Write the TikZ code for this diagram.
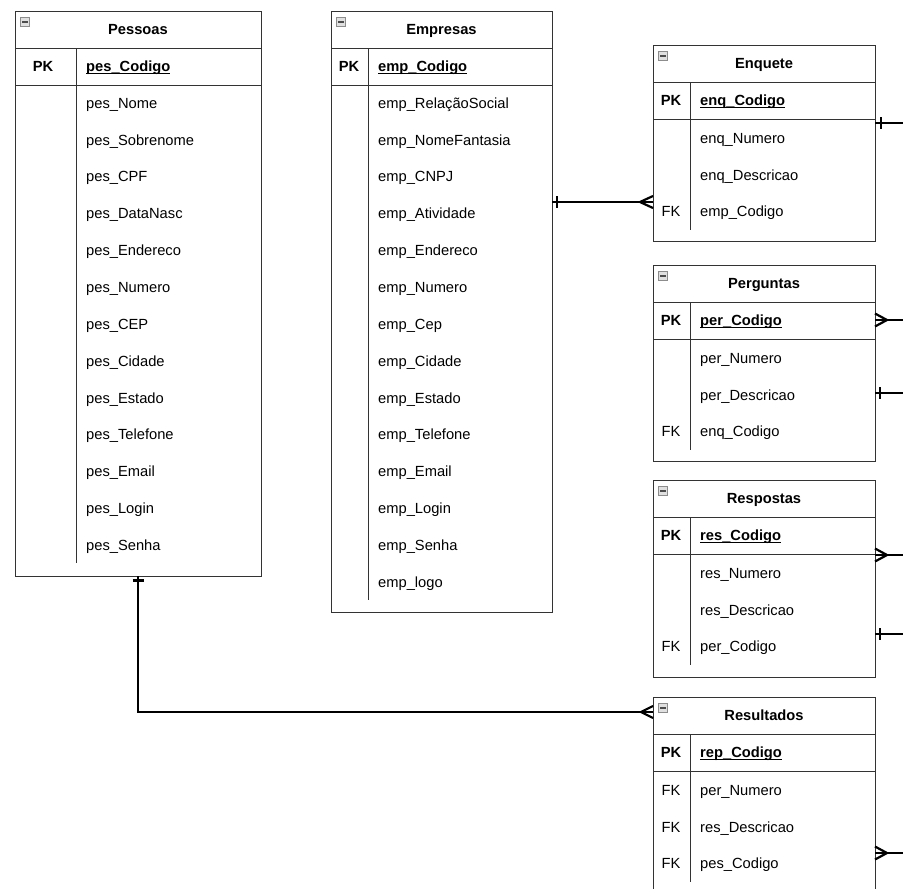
\documentclass[tikz,border=0pt]{standalone}
\usepackage{fontspec}
\setmainfont{Liberation Sans}

\newcommand{\erfont}{\fontsize{14.7}{17}\selectfont}
\newcommand{\pkname}[1]{\setbox0\hbox{#1}\rlap{\rule[-2pt]{\wd0}{1pt}}\box0}

\tikzset{
  tablebox/.style={draw=black!80, line width=1pt, anchor=north west, inner sep=0pt, outer sep=0pt},
  rowline/.style={draw=black!80, line width=1pt},
  collapse/.style={draw=black!45, fill=black!12, line width=0.8pt, minimum width=9.5pt, minimum height=9pt, inner sep=0pt,
    path picture={\draw[black!70, line width=2pt] ([xshift=2pt]path picture bounding box.west) -- ([xshift=-2pt]path picture bounding box.east);}},
  title/.style={font=\erfont\bfseries, text height=10.5pt, text depth=0pt, inner sep=0pt},
  pkkey/.style={font=\erfont\bfseries, text height=10.5pt, text depth=0pt, inner sep=0pt},
  fkkey/.style={font=\erfont, text height=10.5pt, text depth=0pt, inner sep=0pt},
  pkfield/.style={font=\erfont\bfseries, anchor=west, text height=10.5pt, text depth=0pt, inner sep=0pt},
  fieldtext/.style={font=\erfont, anchor=west, text height=10.5pt, text depth=0pt, inner sep=0pt},
  conn/.style={line width=2.2pt, black},
}

\begin{document}
\begin{tikzpicture}[x=1pt, y=-1pt]

\clip (0,0) rectangle (903,889);

% Pessoas
\node[tablebox, minimum width=246pt, minimum height=565pt] (pessoas) at (15,11) {};
\draw[rowline] (15,48) -- (261,48) (15,85) -- (261,85) (76,48) -- (76,563);
\node[collapse] (pescol) at (25,21.5) {};
\node[title] (pestitle) at (138,29.5) {Pessoas};
\node[pkkey] (peskey) at (43,66.5) {PK};
\node[pkfield] (pespk) at (86,66.5) {\pkname{pes\_Codigo}};
\foreach \f [count=\i from 0] in {pes\_Nome, pes\_Sobrenome, pes\_CPF, pes\_DataNasc, pes\_Endereco, pes\_Numero, pes\_CEP, pes\_Cidade, pes\_Estado, pes\_Telefone, pes\_Email, pes\_Login, pes\_Senha}
  \node[fieldtext] (pes\i) at (86,{103+\i*36.85}) {\f};

% Empresas
\node[tablebox, minimum width=221pt, minimum height=601pt] (empresas) at (331,11) {};
\draw[rowline] (331,48) -- (552,48) (331,85) -- (552,85) (368,48) -- (368,600);
\node[collapse] (empcol) at (341,21.5) {};
\node[title] (emptitle) at (441.5,29.5) {Empresas};
\node[pkkey] (empkey) at (349,66.5) {PK};
\node[pkfield] (emppk) at (378,66.5) {\pkname{emp\_Codigo}};
\foreach \f [count=\i from 0] in {emp\_RelaçãoSocial, emp\_NomeFantasia, emp\_CNPJ, emp\_Atividade, emp\_Endereco, emp\_Numero, emp\_Cep, emp\_Cidade, emp\_Estado, emp\_Telefone, emp\_Email, emp\_Login, emp\_Senha, emp\_logo}
  \node[fieldtext] (emp\i) at (378,{103+\i*36.85}) {\f};

% Enquete
\node[tablebox, minimum width=222pt, minimum height=196pt] (enquete) at (653,45) {};
\draw[rowline] (653,82) -- (875,82) (653,119) -- (875,119) (690,82) -- (690,230);
\node[collapse] (enqcol) at (663,55.5) {};
\node[title] (enqtitle) at (764,63.5) {Enquete};
\node[pkkey] (enqkey) at (671,100.5) {PK};
\node[pkfield] (enqpk) at (700,100.5) {\pkname{enq\_Codigo}};
\foreach \f [count=\i from 0] in {enq\_Numero, enq\_Descricao, emp\_Codigo}
  \node[fieldtext] (enq\i) at (700,{138+\i*36.85}) {\f};
\node[fkkey] (enqfk) at (671,211.7) {FK};

% Perguntas
\node[tablebox, minimum width=222pt, minimum height=196pt] (perguntas) at (653,265) {};
\draw[rowline] (653,302) -- (875,302) (653,339) -- (875,339) (690,302) -- (690,450);
\node[collapse] (percol) at (663,275.5) {};
\node[title] (pertitle) at (764,283.5) {Perguntas};
\node[pkkey] (perkey) at (671,320.5) {PK};
\node[pkfield] (perpk) at (700,320.5) {\pkname{per\_Codigo}};
\foreach \f [count=\i from 0] in {per\_Numero, per\_Descricao, enq\_Codigo}
  \node[fieldtext] (per\i) at (700,{358+\i*36.85}) {\f};
\node[fkkey] (perfk) at (671,431.7) {FK};

% Respostas
\node[tablebox, minimum width=222pt, minimum height=197pt] (respostas) at (653,480) {};
\draw[rowline] (653,517) -- (875,517) (653,554) -- (875,554) (690,517) -- (690,665);
\node[collapse] (rescol) at (663,490.5) {};
\node[title] (restitle) at (764,498.5) {Respostas};
\node[pkkey] (reskey) at (671,535.5) {PK};
\node[pkfield] (respk) at (700,535.5) {\pkname{res\_Codigo}};
\foreach \f [count=\i from 0] in {res\_Numero, res\_Descricao, per\_Codigo}
  \node[fieldtext] (res\i) at (700,{573+\i*36.85}) {\f};
\node[fkkey] (resfk) at (671,646.7) {FK};

% Resultados
\node[tablebox, minimum width=222pt, minimum height=200pt] (resultados) at (653,697) {};
\draw[rowline] (653,734) -- (875,734) (653,771) -- (875,771) (690,734) -- (690,882);
\node[collapse] (repcol) at (663,707.5) {};
\node[title] (reptitle) at (764,715.5) {Resultados};
\node[pkkey] (repkey) at (671,752.5) {PK};
\node[pkfield] (reppk) at (700,752.5) {\pkname{rep\_Codigo}};
\foreach \f [count=\i from 0] in {per\_Numero, res\_Descricao, pes\_Codigo} {
  \node[fieldtext] (rep\i) at (700,{790+\i*36.85}) {\f};
  \node[fkkey] (repfk\i) at (671,{790+\i*36.85}) {FK};
}

% Free ends at the right border
\coordinate (enqout) at (903,123);
\coordinate (perout1) at (903,320);
\coordinate (perout2) at (903,393);
\coordinate (resout1) at (903,555);
\coordinate (resout2) at (903,634);
\coordinate (repout) at (903,853);

% Empresas -- Enquete
\draw[conn] (empresas.east |- 0,202) -- (enquete.west |- 0,202);
\draw[conn] (empresas.east |- 0,202) ++(5,-6) -- ++(0,12);
\draw[conn] (enquete.west |- 0,202) ++(-13,0) -- ++(13,-6) ++(-13,6) -- ++(13,6);

% Pessoas -- Resultados
\draw[conn] (pessoas.south) |- (resultados.west |- 0,712);
\draw[conn] (pessoas.south) ++(-5.5,4.5) -- ++(11,0);
\draw[conn] (resultados.west |- 0,712) ++(-12,0) -- ++(12,-6) ++(-12,6) -- ++(12,6);

% Lines leaving on the right
\draw[conn] (enquete.east |- enqout) -- (enqout);
\draw[conn] (enquete.east |- enqout) ++(6,-6) -- ++(0,12);
\draw[conn] (perguntas.east |- perout1) -- (perout1);
\draw[conn] (perguntas.east |- perout1) ++(12,0) -- ++(-12,-6.5) ++(12,6.5) -- ++(-12,6.5);
\draw[conn] (perguntas.east |- perout2) -- (perout2);
\draw[conn] (perguntas.east |- perout2) ++(5,-6) -- ++(0,12);
\draw[conn] (respostas.east |- resout1) -- (resout1);
\draw[conn] (respostas.east |- resout1) ++(12,0) -- ++(-12,-6.5) ++(12,6.5) -- ++(-12,6.5);
\draw[conn] (respostas.east |- resout2) -- (resout2);
\draw[conn] (respostas.east |- resout2) ++(5,-6) -- ++(0,12);
\draw[conn] (resultados.east |- repout) -- (repout);
\draw[conn] (resultados.east |- repout) ++(12,0) -- ++(-12,-6.5) ++(12,6.5) -- ++(-12,6.5);

\end{tikzpicture}
\end{document}
